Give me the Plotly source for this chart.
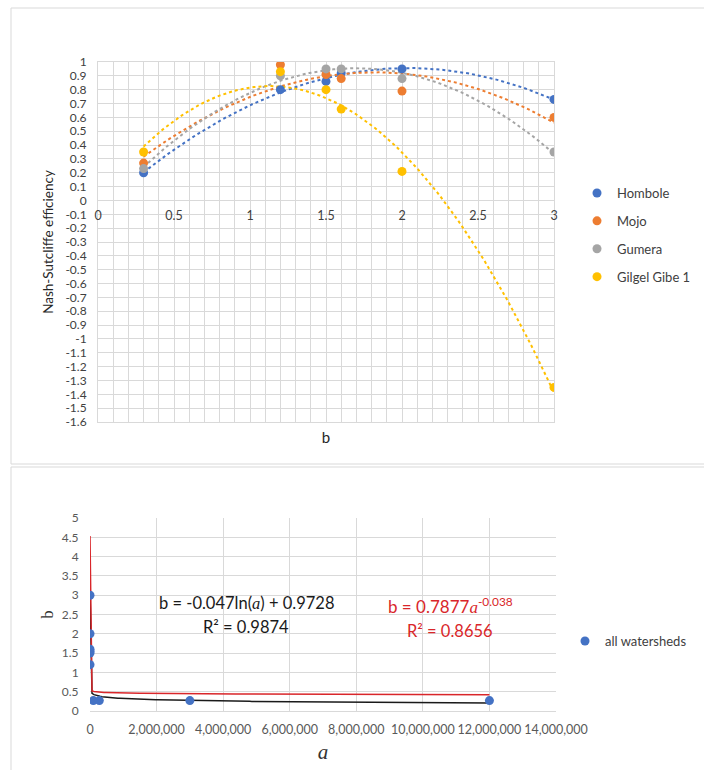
import numpy as np
import plotly.graph_objects as go

# ---------------- data: top chart ----------------
b_values = [0.3, 1.2, 1.5, 1.6, 2.0, 3.0]
hombole = [0.20, 0.80, 0.86, 0.92, 0.95, 0.73]
mojo = [0.27, 0.98, 0.91, 0.88, 0.79, 0.60]
gumera = [0.23, 0.90, 0.95, 0.95, 0.88, 0.35]
gilgel_gibe = [0.35, 0.93, 0.80, 0.66, 0.21, -1.35]
series_names = ["Hombole", "Mojo", "Gumera", "Gilgel Gibe 1"]
series_colors = ["#4472C4", "#ED7D31", "#A5A5A5", "#FFC000"]

# ---------------- data: bottom chart ----------------
a_values = [1e-20, 1e-9, 1e-6, 1e-5, 3e-5, 0.01, 100000, 280000, 3000000, 12000000]
b_opt = [3.0, 2.0, 1.6, 1.55, 1.5, 1.2, 0.27, 0.27, 0.27, 0.27]
log_coef = (-0.047, 0.9728)     # b = c1*ln(a) + c0
pow_coef = (0.7877, -0.038)     # b = k*a^p

top_y_ticks = [round(-1.6 + 0.1 * i, 1) for i in range(27)]
top_y_text = [f"{v:g}" for v in top_y_ticks]
top_x_ticks = [0, 0.5, 1, 1.5, 2, 2.5, 3]
top_x_text = ["0", "0.5", "1", "1.5", "2", "2.5", "3"]
bot_x_ticks = [0, 2e6, 4e6, 6e6, 8e6, 10e6, 12e6, 14e6]
bot_x_text = [f"{int(v):,}" for v in bot_x_ticks]
bot_y_ticks = [0, 0.5, 1, 1.5, 2, 2.5, 3, 3.5, 4, 4.5, 5]
bot_y_text = [f"{v:g}" for v in bot_y_ticks]

W, H = 704, 770
def px(x):
    return x / W
def py(y):
    return (H - y) / H

GRID = "#d9d9d9"
CLEAR = "rgba(0,0,0,0)"
FONT = "Lato, 'Open Sans', sans-serif"

fig = go.Figure()

# top chart trendlines (2nd order polynomial fits)
xs = np.linspace(min(b_values), max(b_values), 120)
for name, vals, col in zip(series_names, [hombole, mojo, gumera, gilgel_gibe], series_colors):
    coef = np.polyfit(b_values, vals, 2)
    fig.add_trace(go.Scatter(x=xs, y=np.polyval(coef, xs), mode="lines",
                             line=dict(color=col, width=2, dash="dot"),
                             showlegend=False, hoverinfo="skip", xaxis="x", yaxis="y"))
for i, (name, vals, col) in enumerate(zip(series_names, [hombole, mojo, gumera, gilgel_gibe], series_colors)):
    fig.add_trace(go.Scatter(x=b_values, y=vals, mode="markers", name=name,
                             marker=dict(color=col, size=9),
                             legend="legend", legendgroup=f"g{i}",
                             xaxis="x", yaxis="y"))

# dummy trace for the label axis at y=0
fig.add_trace(go.Scatter(x=[0, 3], y=[0, 0], mode="markers", marker=dict(opacity=0),
                         showlegend=False, hoverinfo="skip", xaxis="x3", yaxis="y"))

# bottom chart trendlines
a_arr = np.array(a_values)
a_fit = np.concatenate([[a_arr.min()], np.linspace(a_arr.max() / 200, a_arr.max(), 200)])
fig.add_trace(go.Scatter(x=a_fit, y=log_coef[0] * np.log(a_fit) + log_coef[1], mode="lines",
                         line=dict(color="#1a1a1a", width=1.5), showlegend=False,
                         hoverinfo="skip", xaxis="x2", yaxis="y2"))
fig.add_trace(go.Scatter(x=a_fit, y=pow_coef[0] * a_fit ** pow_coef[1], mode="lines",
                         line=dict(color="#d9262a", width=1.5), showlegend=False,
                         hoverinfo="skip", xaxis="x2", yaxis="y2"))
fig.add_trace(go.Scatter(x=a_values, y=b_opt, mode="markers", name="all watersheds",
                         marker=dict(color="#4472C4", size=9), legend="legend2",
                         xaxis="x2", yaxis="y2"))

fig.update_layout(
    width=W, height=H, margin=dict(l=0, r=0, t=0, b=0, autoexpand=False),
    paper_bgcolor="white", plot_bgcolor="white",
    font=dict(family=FONT, size=12, color="#404040"),
    xaxis=dict(domain=[px(98), px(554)], range=[0, 3], dtick=0.1, tick0=0,
               showgrid=True, gridcolor=GRID, gridwidth=1, showticklabels=False,
               zeroline=False, showline=True, linecolor=GRID, mirror=True,
               anchor="y", ticks="", automargin=False,
               title=dict(text="b", font=dict(size=15, color="#262626"), standoff=10)),
    xaxis3=dict(overlaying="x", anchor="free", position=py(200), range=[0, 3],
                tickvals=top_x_ticks, ticktext=top_x_text, showgrid=False,
                zeroline=False, showline=False, ticks="outside", ticklen=4, tickcolor=CLEAR,
                automargin=False, tickfont=dict(size=12.5, color="#404040"), side="bottom"),
    yaxis=dict(domain=[py(422), py(62)], range=[-1.6, 1.0], tickvals=top_y_ticks,
               ticktext=top_y_text, showgrid=True, gridcolor=GRID, zeroline=True,
               zerolinecolor=GRID, zerolinewidth=1, showline=True, linecolor=GRID,
               mirror=True, anchor="x", ticks="outside", ticklen=8, tickcolor=CLEAR,
               automargin=False, tickfont=dict(size=12, color="#404040"),
               title=dict(text="Nash-Sutcliffe efficiency", font=dict(size=13.5, color="#262626"),
                          standoff=8)),
    xaxis2=dict(domain=[px(90), px(556)], range=[0, 14e6], tickvals=bot_x_ticks,
                ticktext=bot_x_text, showgrid=True, gridcolor=GRID, zeroline=False,
                showline=True, linecolor=GRID, anchor="y2", ticks="outside", ticklen=7,
                tickcolor=CLEAR, automargin=False,
                tickfont=dict(size=12.5, color="#595959"),
                title=dict(text="<i>a</i>", font=dict(family="Liberation Serif, serif", size=21,
                                                      color="#333333"), standoff=8)),
    yaxis2=dict(domain=[py(711), py(518)], range=[0, 5], tickvals=bot_y_ticks,
                ticktext=bot_y_text, showgrid=True, gridcolor=GRID, zeroline=False,
                showline=False, anchor="x2", ticks="outside", ticklen=8, tickcolor=CLEAR,
                automargin=False, tickfont=dict(size=12, color="#595959"),
                title=dict(text="b", font=dict(family="Liberation Serif, serif", size=16,
                                               color="#333333"), standoff=4)),
    legend=dict(x=px(577), y=py(178), xanchor="left", yanchor="top",
                font=dict(size=13, color="#404040"), tracegroupgap=8,
                bgcolor=CLEAR),
    legend2=dict(x=px(565), y=py(626), xanchor="left", yanchor="top",
                 font=dict(size=13, color="#404040"), bgcolor=CLEAR),
    showlegend=True,
)

SERIF_A = "<i><span style='font-family:Liberation Serif, serif'>a</span></i>"
fig.add_annotation(x=px(247), y=py(603), xref="paper", yref="paper", showarrow=False,
                   xanchor="center", yanchor="middle",
                   text=f"b = -0.047ln({SERIF_A}) + 0.9728",
                   font=dict(size=16.5, color="#1a1a1a"))
fig.add_annotation(x=px(246), y=py(627), xref="paper", yref="paper", showarrow=False,
                   xanchor="center", yanchor="middle",
                   text="R² = 0.9874", font=dict(size=16.5, color="#1a1a1a"))
fig.add_annotation(x=px(450), y=py(605), xref="paper", yref="paper", showarrow=False,
                   xanchor="center", yanchor="middle",
                   text=f"b = 0.7877{SERIF_A}<sup>-0.038</sup>",
                   font=dict(size=17, color="#d9262a"))
fig.add_annotation(x=px(450), y=py(631), xref="paper", yref="paper", showarrow=False,
                   xanchor="center", yanchor="middle",
                   text="R² = 0.8656", font=dict(size=16.5, color="#d9262a"))

# chart area borders
fig.add_shape(type="rect", xref="paper", yref="paper", x0=px(11), x1=1.02, y0=py(464), y1=py(8),
              line=dict(color="#d9d9d9", width=1))
fig.add_shape(type="rect", xref="paper", yref="paper", x0=px(11), x1=1.02, y0=-0.02, y1=py(467),
              line=dict(color="#d9d9d9", width=1))

fig.write_html("out.html")
